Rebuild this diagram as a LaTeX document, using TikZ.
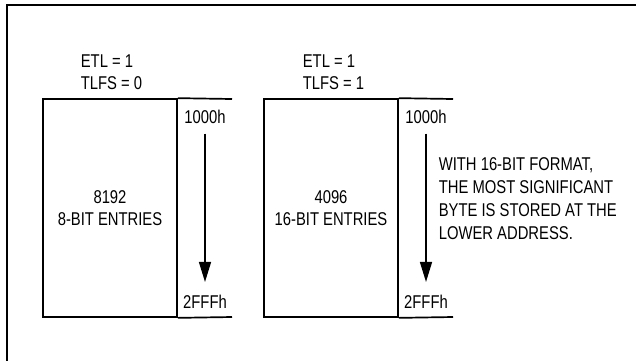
\documentclass[tikz,border=0pt]{standalone}
\usepackage{fontspec}
\setmainfont{Liberation Sans}[FakeStretch=0.8]
\usepackage{tikz}
\usetikzlibrary{arrows.meta}

\begin{document}
\begin{tikzpicture}[x=1pt,y=-1pt,line width=1.7pt,font=\fontsize{18.5}{22}\selectfont]
    \tikzstyle{table}=[rectangle,draw,minimum width=134pt,minimum height=218pt,inner sep=0pt,align=center]
    \tikzstyle{addr}=[inner sep=0pt]
    \tikzstyle{annot}=[anchor=north west,inner sep=0pt,align=left]
    \tikzstyle{scan}=[-{Triangle[length=20pt,width=12pt]},line width=1.4pt,shorten <=9pt,shorten >=12pt]

    \useasboundingbox (0,0) rectangle (636,360);
    % outer frame, cut off at the right and bottom
    \draw[line width=2.6pt] (7,370) |- (646,5);

    % Draw the tables
    \node[table] (T-1) at (110,208) {8192\\8-BIT ENTRIES};
    \node[table] (T-2) at (331,208) {4096\\16-BIT ENTRIES};
    \coordinate (E-11) at (232,99);
    \coordinate (E-12) at (232,317);
    \coordinate (E-21) at (453,99);
    \coordinate (E-22) at (453,317);
    \draw (T-1.north east) -- (E-11);
    \draw (T-1.south east) -- (E-12);
    \draw (T-2.north east) -- (E-21);
    \draw (T-2.south east) -- (E-22);

    % Draw the address ranges
    \node[addr] (A-11) at (205,117) {1000h};
    \node[addr] (A-12) at (205,301.5) {2FFFh};
    \node[addr] (A-21) at (426,117) {1000h};
    \node[addr] (A-22) at (426,301.5) {2FFFh};
    \draw[scan] (A-11) -- (A-12);
    \draw[scan] (A-21) -- (A-22);

    % Annotate the tables
    \node[annot] (L-1) at (80,54) {ETL = 1\\TLFS = 0};
    \node[annot] (L-2) at (302,54) {ETL = 1\\TLFS = 1};
    \node[annot,font=\fontsize{18.5}{23}\selectfont] (N) at (438,157) {WITH 16-BIT FORMAT,\\THE MOST SIGNIFICANT\\BYTE IS STORED AT THE\\LOWER ADDRESS.};
\end{tikzpicture}
\end{document}
